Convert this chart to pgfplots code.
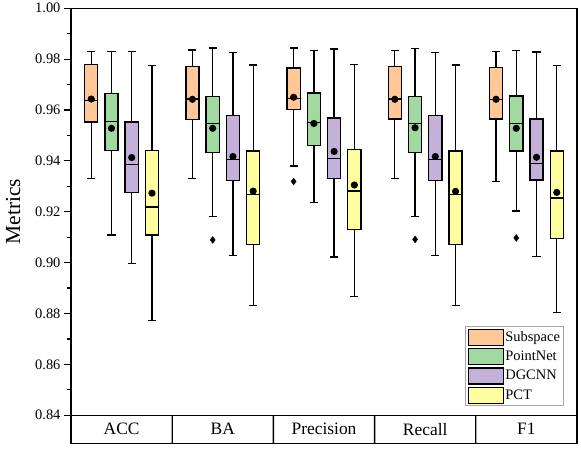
\documentclass[border=0pt]{standalone}
\usepackage{fontspec}
\setmainfont{Liberation Serif}
\usepackage{pgfplots}
\pgfplotsset{compat=1.18}
\usepgfplotslibrary{statistics}

\definecolor{cSub}{RGB}{255,200,150}
\definecolor{cPN}{RGB}{160,218,160}
\definecolor{cDG}{RGB}{195,177,217}
\definecolor{cPCT}{RGB}{255,255,160}

\pgfplotsset{
  bx/.style={forget plot, draw=black, line width=1.3bp, fill=#1,
    mark=diamond*, mark size=3.4bp, mark options={fill=black, draw=black, line width=0.4bp},
    boxplot/draw direction=y,
    boxplot/box extend=0.13, boxplot/whisker extend=0.08,
    boxplot/every median/.style={draw=black, line width=1.3bp},
    boxplot/every whisker/.style={draw=black, line width=1.3bp},
    boxplot/draw/average/.code={\fill[black] (boxplot box cs:\pgfplotsboxplotvalue{average},0.5) circle[radius=2.9bp];}},
}

\begin{document}
\begin{tikzpicture}
\begin{axis}[
    scale only axis, width=506bp, height=407bp,
    xmin=-0.5, xmax=4.5, ymin=0.84, ymax=1.00,
    xtick=\empty,
    ytick={0.84,0.86,0.88,0.90,0.92,0.94,0.96,0.98,1.00},
    minor y tick num=1,
    tick align=outside, ytick pos=left,
    major tick length=7bp, minor tick length=4bp,
    every tick/.style={black, line width=1.2bp},
    axis line style={line width=1.3bp},
    yticklabel style={/pgf/number format/.cd, fixed, fixed zerofill, precision=2, assume math mode=true},
    tick label style={font=\fontsize{14.5}{16}\selectfont},
    ylabel={Metrics}, ylabel style={font=\fontsize{21.5}{23}\selectfont},
    ylabel shift=8bp,
    clip=false,
    legend style={at={(0.974,0.022)}, anchor=south east, draw=black!35, line width=0.8bp,
                  font=\fontsize{14.5}{16}\selectfont, inner sep=2bp, row sep=2bp,
                  nodes={inner xsep=1.5bp, inner ysep=0bp}, cells={anchor=west}},
    legend image code/.code={\draw[#1, line width=1.3bp] (0bp,-8bp) rectangle (35bp,8bp);},
]
% ACC
\addplot[bx=cSub, boxplot prepared={draw position=-0.3, lower whisker=0.9330, lower quartile=0.9553, median=0.9638, upper quartile=0.9779, upper whisker=0.9831, average=0.9643}] coordinates {};
\addplot[bx=cPN, boxplot prepared={draw position=-0.1, lower whisker=0.9108, lower quartile=0.9442, median=0.9554, upper quartile=0.9666, upper whisker=0.9831, average=0.9528}] coordinates {};
\addplot[bx=cDG, boxplot prepared={draw position=0.1, lower whisker=0.8996, lower quartile=0.9275, median=0.9387, upper quartile=0.9553, upper whisker=0.9831, average=0.9413}] coordinates {};
\addplot[bx=cPCT, boxplot prepared={draw position=0.3, lower whisker=0.8773, lower quartile=0.9108, median=0.9219, upper quartile=0.9440, upper whisker=0.9776, average=0.9273}] coordinates {};
% BA
\addplot[bx=cSub, boxplot prepared={draw position=0.7, lower whisker=0.9330, lower quartile=0.9562, median=0.9643, upper quartile=0.9771, upper whisker=0.9836, average=0.9642}] coordinates {};
\addplot[bx=cPN, boxplot prepared={draw position=0.9, lower whisker=0.9181, lower quartile=0.9434, median=0.9548, upper quartile=0.9654, upper whisker=0.9844, average=0.9528}] coordinates {(0,0.9089)};
\addplot[bx=cDG, boxplot prepared={draw position=1.1, lower whisker=0.9028, lower quartile=0.9324, median=0.9405, upper quartile=0.9577, upper whisker=0.9826, average=0.9417}] coordinates {};
\addplot[bx=cPCT, boxplot prepared={draw position=1.3, lower whisker=0.8832, lower quartile=0.9072, median=0.9268, upper quartile=0.9439, upper whisker=0.9777, average=0.9281}] coordinates {};
% Precision
\addplot[bx=cSub, boxplot prepared={draw position=1.7, lower whisker=0.9380, lower quartile=0.9603, median=0.9645, upper quartile=0.9765, upper whisker=0.9844, average=0.9650}] coordinates {(0,0.9319)};
\addplot[bx=cPN, boxplot prepared={draw position=1.9, lower whisker=0.9237, lower quartile=0.9459, median=0.9552, upper quartile=0.9667, upper whisker=0.9834, average=0.9547}] coordinates {};
\addplot[bx=cDG, boxplot prepared={draw position=2.1, lower whisker=0.9022, lower quartile=0.9330, median=0.9410, upper quartile=0.9568, upper whisker=0.9840, average=0.9437}] coordinates {};
\addplot[bx=cPCT, boxplot prepared={draw position=2.3, lower whisker=0.8868, lower quartile=0.9131, median=0.9281, upper quartile=0.9446, upper whisker=0.9780, average=0.9305}] coordinates {};
% Recall
\addplot[bx=cSub, boxplot prepared={draw position=2.7, lower whisker=0.9330, lower quartile=0.9564, median=0.9643, upper quartile=0.9771, upper whisker=0.9835, average=0.9642}] coordinates {};
\addplot[bx=cPN, boxplot prepared={draw position=2.9, lower whisker=0.9181, lower quartile=0.9434, median=0.9548, upper quartile=0.9654, upper whisker=0.9843, average=0.9530}] coordinates {(0,0.9091)};
\addplot[bx=cDG, boxplot prepared={draw position=3.1, lower whisker=0.9028, lower quartile=0.9324, median=0.9405, upper quartile=0.9577, upper whisker=0.9826, average=0.9417}] coordinates {};
\addplot[bx=cPCT, boxplot prepared={draw position=3.3, lower whisker=0.8832, lower quartile=0.9072, median=0.9269, upper quartile=0.9439, upper whisker=0.9777, average=0.9280}] coordinates {};
% F1
\addplot[bx=cSub, boxplot prepared={draw position=3.7, lower whisker=0.9319, lower quartile=0.9565, median=0.9642, upper quartile=0.9767, upper whisker=0.9831, average=0.9642}] coordinates {};
\addplot[bx=cPN, boxplot prepared={draw position=3.9, lower whisker=0.9203, lower quartile=0.9439, median=0.9547, upper quartile=0.9655, upper whisker=0.9835, average=0.9528}] coordinates {(0,0.9097)};
\addplot[bx=cDG, boxplot prepared={draw position=4.1, lower whisker=0.9023, lower quartile=0.9325, median=0.9389, upper quartile=0.9564, upper whisker=0.9828, average=0.9414}] coordinates {};
\addplot[bx=cPCT, boxplot prepared={draw position=4.3, lower whisker=0.8804, lower quartile=0.9096, median=0.9254, upper quartile=0.9439, upper whisker=0.9776, average=0.9276}] coordinates {};

\addlegendimage{fill=cSub, draw=black}\addlegendentry{Subspace}
\addlegendimage{fill=cPN, draw=black}\addlegendentry{PointNet}
\addlegendimage{fill=cDG, draw=black}\addlegendentry{DGCNN}
\addlegendimage{fill=cPCT, draw=black}\addlegendentry{PCT}

% category band below the axis
\draw[line width=1.3bp] (rel axis cs:0,0) rectangle (rel axis cs:1,-0.0688);
\draw[line width=1.3bp] (axis cs:0.5,0.84) -- (rel axis cs:0.2,-0.0688);
\draw[line width=1.3bp] (axis cs:1.5,0.84) -- (rel axis cs:0.4,-0.0688);
\draw[line width=1.3bp] (axis cs:2.5,0.84) -- (rel axis cs:0.6,-0.0688);
\draw[line width=1.3bp] (axis cs:3.5,0.84) -- (rel axis cs:0.8,-0.0688);
\node[font=\fontsize{17.5}{19}\selectfont] at (rel axis cs:0.1,-0.0344) {ACC};
\node[font=\fontsize{17.5}{19}\selectfont] at (rel axis cs:0.3,-0.0344) {BA};
\node[font=\fontsize{17.5}{19}\selectfont] at (rel axis cs:0.5,-0.0344) {Precision};
\node[font=\fontsize{17.5}{19}\selectfont] at (rel axis cs:0.7,-0.0344) {Recall};
\node[font=\fontsize{17.5}{19}\selectfont] at (rel axis cs:0.9,-0.0344) {F1};
% page margins as in the reference
\path (rel axis cs:-0.1403,-0.0835) rectangle (rel axis cs:1.0079,1.0197);
\end{axis}
\end{tikzpicture}
\end{document}
